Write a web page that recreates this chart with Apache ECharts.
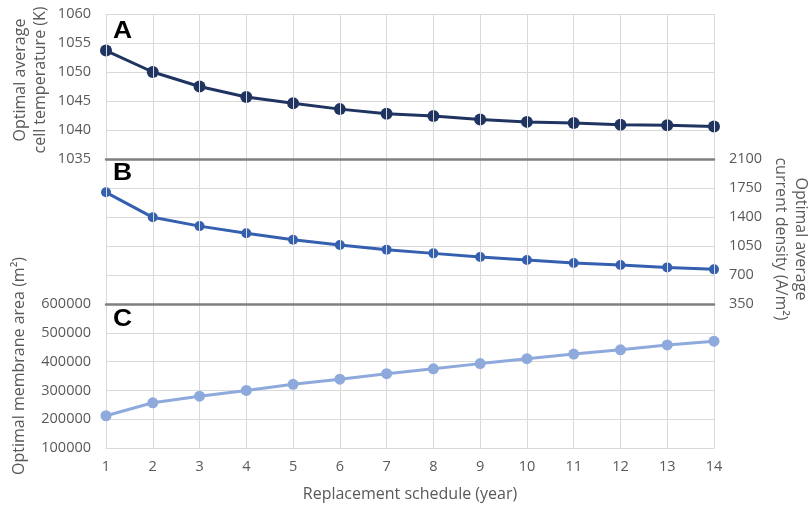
<!DOCTYPE html>
<html>
<head>
<meta charset="utf-8">
<script src="https://cdn.jsdelivr.net/npm/echarts@6/dist/echarts.min.js"></script>
<style>
html,body{margin:0;padding:0;background:#fff;}
#chart{width:811px;height:512px;}
</style>
</head>
<body>
<div id="chart"></div>
<script>
// ---- data ----
var years = ['1','2','3','4','5','6','7','8','9','10','11','12','13','14'];
var cellTemperature = [1053.7,1050.0,1047.5,1045.7,1044.6,1043.6,1042.8,1042.4,1041.8,1041.4,1041.2,1040.9,1040.8,1040.6];
var currentDensity = [1698,1396,1290,1203,1126,1062,1006,961,917,881,845,821,792,768];
var membraneArea = [212000,257000,280000,300000,321000,339000,358000,375000,393000,410000,426000,441000,458000,471000];
var tempTicks = [1035,1040,1045,1050,1055,1060];
var densityTicks = [350,700,1050,1400,1750,2100];
var areaTicks = [100000,200000,300000,400000,500000,600000];

var FONT = '"Open Sans", sans-serif';
var GRID = '#d9d9d9';
var SEP = '#7f7f7f';
var TXT = '#595959';
var C_A = '#1f3461', C_B = '#3560b0', C_C = '#8eaadc';

function xAx(idx, showLabels, lineColor, lineW){
  return {
    type:'category', gridIndex: idx, data: years, boundaryGap:false,
    z: showLabels ? 1 : 5,
    axisTick:{show:false},
    axisLine:{show:true, lineStyle:{color:lineColor, width:lineW}},
    axisLabel:{show:showLabels, color:TXT, fontFamily:FONT, fontSize:14.5, margin:11},
    splitLine:{show:true, lineStyle:{color:GRID, width:1}},
    name: showLabels ? 'Replacement schedule (year)' : '',
    nameLocation:'middle', nameGap:38,
    nameTextStyle:{color:TXT, fontFamily:FONT, fontSize:16}
  };
}
function yAx(idx, ticks, pos){
  return {
    type:'value', gridIndex: idx, position: pos,
    min: ticks[0], max: ticks[ticks.length-1], interval: ticks[1]-ticks[0],
    axisLine:{show:false}, axisTick:{show:false},
    axisLabel:{color:TXT, fontFamily:FONT, fontSize:14.5, margin:15, formatter:function(v){return String(v);}},
    splitLine:{show:true, lineStyle:{color:GRID, width:1}}
  };
}
function lineSeries(i, data, color, size){
  return {type:'line', xAxisIndex:i, yAxisIndex:i, data:data, symbol:'circle', symbolSize:size,
    itemStyle:{color:color, borderColor:color, borderWidth:0}, lineStyle:{color:color, width:3}, z:3,
    emphasis:{disabled:true}};
}

var chart = echarts.init(document.getElementById('chart'), null, {renderer:'canvas'});
chart.setOption({
  animation:false,
  backgroundColor:'#fff',
  grid:[
    {left:106, right:97, top:14, height:145},
    {left:106, right:97, top:159, height:145},
    {left:106, right:97, top:304, height:144}
  ],
  xAxis:[ xAx(0,false,SEP,2.5), xAx(1,false,SEP,2.5), xAx(2,true,GRID,1) ],
  yAxis:[ yAx(0,tempTicks,'left'), yAx(1,densityTicks,'right'), yAx(2,areaTicks,'left') ],
  series:[
    lineSeries(0, cellTemperature, C_A, 12),
    lineSeries(1, currentDensity, C_B, 10),
    lineSeries(2, membraneArea, C_C, 11)
  ],
  graphic:[
    {type:'text', x:113, y:31.5, scaleX:1.15, style:{text:'A', font:'bold 23px "Liberation Sans", Arial, sans-serif', fill:'#000', textVerticalAlign:'middle'}},
    {type:'text', x:113, y:174, scaleX:1.15, style:{text:'B', font:'bold 23px "Liberation Sans", Arial, sans-serif', fill:'#000', textVerticalAlign:'middle'}},
    {type:'text', x:113, y:320, scaleX:1.15, style:{text:'C', font:'bold 23px "Liberation Sans", Arial, sans-serif', fill:'#000', textVerticalAlign:'middle'}},
    {type:'text', x:30, y:80, rotation:Math.PI/2,
     style:{text:'Optimal average\ncell temperature (K)', font:'16px '+FONT, fill:TXT, textAlign:'center', textVerticalAlign:'middle', lineHeight:20}},
    {type:'text', x:19, y:366, rotation:Math.PI/2,
     style:{text:'Optimal membrane area (m²)', font:'16px '+FONT, fill:TXT, textAlign:'center', textVerticalAlign:'middle'}},
    {type:'text', x:791, y:239, rotation:-Math.PI/2,
     style:{text:'Optimal average\ncurrent density (A/m²)', font:'16px '+FONT, fill:TXT, textAlign:'center', textVerticalAlign:'middle', lineHeight:20}}
  ]
});
</script>
</body>
</html>
